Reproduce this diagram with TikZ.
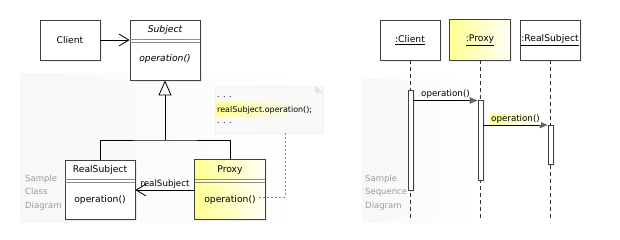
\documentclass[tikz,border=0pt]{standalone}
\usepackage{fontspec}
\setmainfont{DejaVu Sans}
\usetikzlibrary{arrows.meta,shadows,calc}
\begin{document}
\begin{tikzpicture}[x=1pt,y=-1pt, font=\fontsize{9.2}{11}\selectfont,
 box/.style={draw=black!75, line width=0.8pt, fill=white, minimum width=60pt, minimum height=40pt, inner sep=0pt,
   drop shadow={shadow xshift=2pt,shadow yshift=-2pt,opacity=0.12}},
 cls/.style={box, minimum width=70pt},
 yelshade/.style={left color=yellow!42!white, right color=yellow!4!white},
 border/.style={draw=black!75, line width=0.8pt},
 sep/.style={draw=black!45, line width=0.5pt},
 lbl/.style={inner sep=0pt, anchor=base},
 small/.style={font=\fontsize{8.7}{10}\selectfont},
 captext/.style={text=black!40, align=left, font=\fontsize{8.5}{13.5}\selectfont, anchor=north west, inner sep=0pt},
 gen/.style={line width=0.8pt, -{Triangle[open,length=15pt,width=13pt,fill=white]}},
 assoc/.style={line width=0.8pt, -{Straight Barb[length=10pt,width=12pt]}},
 msg/.style={line width=0.7pt, -{Triangle[length=8pt,width=6.5pt,color=black!60]}},
 life/.style={dash pattern=on 4pt off 3pt, line width=0.7pt, draw=black!80},
 act/.style={draw=black!75, fill=white, line width=0.7pt, minimum width=5pt, inner sep=0pt,
   drop shadow={shadow xshift=1.5pt,shadow yshift=-1.5pt,opacity=0.12}},
 hl/.style={left color=yellow!40!white, right color=white, inner sep=1pt},
]
\useasboundingbox (0,0) rectangle (620,240);
% faint panels
\fill[left color=black!3, right color=white] (20,74) rectangle (305,222);
\fill[left color=black!3, right color=white] (362,80) rectangle (475,222);
\node[captext] (capc) at (25,174.5) {Sample\\Class\\Diagram};
\node[captext] (caps) at (365,174.5) {Sample\\Sequence\\Diagram};

% ---------- class diagram ----------
\node[box] (client) at (70,40) {Client};
\node[cls, minimum height=60pt] (subject) at (165,50) {};
\node[lbl] (subjt) at (165,32.5) {\itshape Subject};
\draw[sep] (subject.west |- 0,39) -- (subject.east |- 0,39);
\draw[sep] (subject.west |- 0,42) -- (subject.east |- 0,42);
\node[lbl] (subjop) at (165,62) {\itshape operation()};

\node[cls, minimum height=59pt] (realsub) at (100,189.5) {};
\node[lbl] (rst) at (100,172.5) {RealSubject};
\draw[sep] (realsub.west |- 0,179.5) -- (realsub.east |- 0,179.5);
\draw[sep] (realsub.west |- 0,182) -- (realsub.east |- 0,182);
\node[lbl] (rsop) at (100,202.5) {operation()};

\node[cls, minimum height=59pt] (proxy) at (230,189.5) {};
\shade[yelshade] ($(proxy.north west)+(0.4,0.4)$) rectangle ($(proxy.south east)+(-0.4,-0.4)$);
\draw[border] (proxy.north west) rectangle (proxy.south east);
\node[lbl] (pxt) at (230,172.5) {Proxy};
\draw[sep] (proxy.west |- 0,179.5) -- (proxy.east |- 0,179.5);
\draw[sep] (proxy.west |- 0,182) -- (proxy.east |- 0,182);
\node[lbl] (pop) at (230,202.5) {operation()};

\draw[assoc] (client.east) -- (client.east -| subject.west);
\coordinate (gj) at (165,140);
\draw[line width=0.8pt] (realsub.north) |- (gj) -| (proxy.north);
\draw[gen] (gj) -- (subject.south);
\draw[assoc] (proxy.west |- 0,190) -- (realsub.east |- 0,190)
  node[midway, above=1pt, small, inner sep=0pt] (rsl) {realSubject};

% note
\node[fill=black!2.5, draw=black!5, minimum width=108pt, minimum height=47pt, inner sep=0pt] (note) at (269,109.5) {};
\fill[black!10] ($(note.north east)+(-8,0)$) -- ++(8,7) -- ++(-8,0) -- cycle;
\fill[left color=yellow!40!white, right color=black!2.5] (216,103) rectangle (298,117);
\node[anchor=base west, inner sep=0pt, font=\fontsize{8}{10}\selectfont] (n1) at (217,98) {. . .};
\node[anchor=base west, inner sep=0pt, font=\fontsize{8}{10}\selectfont] (n2) at (217,113) {realSubject.operation();};
\node[anchor=base west, inner sep=0pt, font=\fontsize{8}{10}\selectfont] (n3) at (217,124) {. . .};
\draw[black!45, dash pattern=on 2pt off 2pt, line width=0.6pt] (note.south -| 285,0) |- ($(pop.east)+(1,-3)$);

% ---------- sequence diagram ----------
\node[box] (sc) at (410,40) {\underline{:Client}};
\node[box] (sp) at (480,40) {};
\shade[yelshade] ($(sp.north west)+(0.4,0.4)$) rectangle ($(sp.south east)+(-0.4,-0.4)$);
\draw[border] (sp.north west) rectangle (sp.south east);
\node (spt) at (480,40) {\underline{:Proxy}};
\node[box] (sr) at (550,40) {\underline{:RealSubject}};
\coordinate (ec) at (410,220);
\coordinate (ep) at (480,220);
\coordinate (er) at (550,220);
\draw[life] (sc) -- (ec);
\draw[life] (sp) -- (ep);
\draw[life] (sr) -- (er);
\node[act, minimum height=100pt] (ac) at (410.5,140) {};
\node[act, minimum height=80pt] (ap) at (480.5,140) {};
\node[act, minimum height=39pt] (ar) at (550.5,144.5) {};
\draw[msg] (ac.east |- 0,100.5) -- (ap.west |- 0,100.5)
  node[midway, above=1.5pt, small, inner sep=0pt] (m1) {operation()};
\draw[msg] (ap.east |- 0,125) -- (ar.west |- 0,125)
  node[midway, above=0.5pt, small, hl] (m2) {operation()};
\end{tikzpicture}
\end{document}
